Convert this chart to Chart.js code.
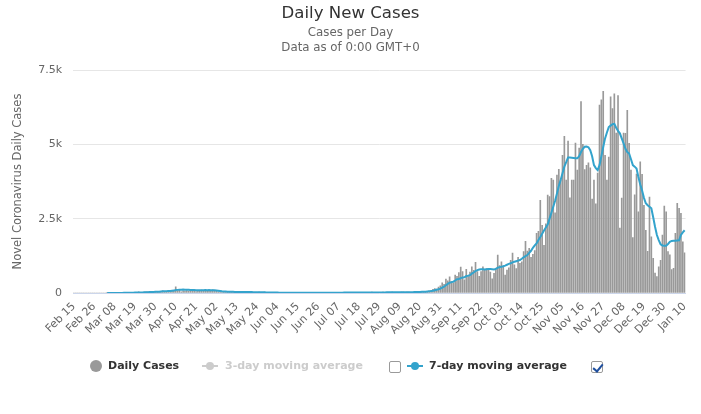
<!DOCTYPE html>
<html>
<head>
<meta charset="utf-8">
<script src="https://cdn.jsdelivr.net/npm/chart.js@4.4.0/dist/chart.umd.min.js"></script>
<style>
  body { margin: 0; background: #fff; font-family: "DejaVu Sans", sans-serif; }
  #wrap { position: relative; width: 701px; height: 414px; overflow: hidden; }
  #myChart { position: absolute; left: 0; top: 0; }
  .t { position: absolute; left: 0; width: 701px; text-align: center; white-space: nowrap; }
  #title { top: 3px; font-size: 16.6px; line-height: 20px; color: #333; }
  #sub1 { top: 25px; font-size: 11.8px; line-height: 14px; color: #666; }
  #sub2 { top: 40px; font-size: 11.8px; line-height: 14px; color: #666; }
  .lg { position: absolute; top: 359px; font-size: 11px; line-height: 14px; font-weight: bold; white-space: nowrap; }
  .dot { position: absolute; border-radius: 50%; }
  .seg { position: absolute; height: 2px; }
  .box { position: absolute; width: 10px; height: 10px; border: 1px solid #9a9a9a; border-radius: 2px; background: #fff; }
  .tick { position: absolute; left: 3px; top: 0px; width: 4px; height: 8px; border: solid #1f4f9e; border-width: 0 2px 2px 0; transform: rotate(40deg); }
</style>
</head>
<body>
<div id="wrap">
  <canvas id="myChart" width="701" height="414"></canvas>
  <div class="t" id="title">Daily New Cases</div>
  <div class="t" id="sub1">Cases per Day</div>
  <div class="t" id="sub2">Data as of 0:00 GMT+0</div>

  <div class="dot" style="left:90px;top:360px;width:12px;height:12px;background:#999;"></div>
  <div class="lg" style="left:108px;color:#333;">Daily Cases</div>

  <div class="seg" style="left:202px;top:365px;width:16px;background:#ccc;"></div>
  <div class="dot" style="left:206px;top:362px;width:8px;height:8px;background:#ccc;"></div>
  <div class="lg" style="left:225px;color:#ccc;">3-day moving average</div>

  <div class="box" style="left:389px;top:361px;"></div>

  <div class="seg" style="left:407px;top:365px;width:16px;background:#33a3cc;"></div>
  <div class="dot" style="left:411px;top:362px;width:8px;height:8px;background:#33a3cc;"></div>
  <div class="lg" style="left:429px;color:#333;">7-day moving average</div>

  <div class="box" style="left:591px;top:361px;"><div class="tick"></div></div>
</div>
<script>
// daily new cases, Feb 15 2020 -> Jan 10 2021
var dailyFeb = [0,0,0,0,0,0,0,0,0,0,0,0,0,0,0];
var dailyMar = [0,0,0,2,0,1,3,2,3,1,0,6,3,7,11,8,7,16,17,18,36,13,25,35,39,38,40,35,39,55,50];
var dailyApr = [60,60,70,38,55,74,73,78,85,210,85,99,43,72,64,82,66,99,80,67,48,53,82,100,84,95,65,84,73,105];
var dailyMay = [60,61,40,35,38,36,40,52,42,40,35,30,25,45,28,22,30,35,27,38,31,25,20,15,28,22,17,30,24,15,18];
var dailyJun = [14,8,12,15,10,6,9,4,10,4,3,12,8,10,6,5,7,3,12,14,9,4,8,10,18,7,5,6,8,10];
var dailyJul = [10,12,9,5,20,14,8,10,17,13,7,15,22,10,19,11,8,24,12,16,20,15,6,14,30,19,21,25,12,17,28];
var dailyAug = [20,15,12,22,30,24,26,18,10,27,35,23,31,28,20,25,32,40,38,45,30,22,48,60,75,92,120,150,132,200,245];
var dailySep = [345,290,470,410,540,380,330,600,560,690,870,720,440,800,550,700,880,760,1030,720,560,720,880,760,820,830,700,480,660,830];
var dailyOct = [1275,920,1050,860,600,770,850,1100,1340,950,820,1200,1000,1050,1390,1740,1410,1500,1200,1300,1430,2010,2070,3120,2280,1600,2330,3290,3240,3860,3800];
var dailyNov = [2700,3970,4160,3800,4630,5270,3800,5110,3200,3800,3800,5040,4130,4870,6440,5000,4150,4290,4380,4210,3160,3800,3000,4030,6320,6500,6780,4630,3800,4570];
var dailyDec = [6600,6200,6700,5380,6640,2180,3190,5380,5370,6140,5030,4130,1860,3300,4000,2730,4410,3990,2950,2110,1400,3230,1890,1170,670,550,880,1100,1950,2920,2730];
var dailyJan = [1390,1280,790,830,2010,3020,2850,2680,1720,1350];

// 7-day moving average
var avgFeb = [null,null,null,null,null,null,null,null,null,null,null,null,null,null,null];
var avgMar = [null,null,null,0,1,1,2,2,3,3,3,4,5,6,7,8,9,11,13,14,17,18,20,23,26,28,31,33,35,38,40];
var avgApr = [45,50,55,58,62,66,70,75,80,100,105,110,112,115,112,108,106,104,102,100,96,92,92,94,96,98,96,98,96,96];
var avgMay = [90,82,74,66,58,52,47,43,42,40,39,37,34,33,33,31,30,30,30,31,30,28,26,25,24,23,22,22,21,21,20];
var avgJun = [18,16,15,13,12,10,10,9,8,8,7,7,7,8,8,8,7,6,7,8,9,8,8,9,10,10,10,9,8,8];
var avgJul = [9,9,10,10,11,12,12,12,12,13,13,13,14,14,14,15,15,15,16,16,16,17,17,18,18,19,19,20,20,20,21];
var avgAug = [21,22,22,23,23,24,24,22,22,23,24,25,26,27,28,29,30,31,32,36,38,38,42,48,55,65,78,94,110,125,145];
var avgSep = [183,212,262,306,346,365,380,420,465,470,500,520,530,570,580,600,650,690,740,770,790,800,800,790,800,810,810,800,790,810];
var avgOct = [850,870,880,900,920,950,980,1000,1030,1050,1070,1090,1110,1150,1200,1240,1275,1350,1420,1520,1600,1670,1780,1880,1990,2100,2200,2300,2500,2700,2900];
var avgNov = [3100,3350,3600,3800,4030,4250,4400,4560,4560,4550,4540,4530,4530,4600,4740,4850,4920,4930,4900,4800,4600,4300,4200,4130,4300,4600,4910,5200,5400,5580];
var avgDec = [5630,5680,5690,5560,5450,5370,5200,5030,4850,4740,4690,4500,4300,4250,4190,3900,3650,3450,3200,3020,2950,2900,2850,2550,2230,1950,1780,1640,1600,1590,1590];
var avgJan = [1650,1720,1750,1760,1760,1765,1770,1950,2040,2110];

var daily = [].concat(dailyFeb, dailyMar, dailyApr, dailyMay, dailyJun, dailyJul, dailyAug, dailySep, dailyOct, dailyNov, dailyDec, dailyJan);
var avg7 = [].concat(avgFeb, avgMar, avgApr, avgMay, avgJun, avgJul, avgAug, avgSep, avgOct, avgNov, avgDec, avgJan);

var monthNames = ['Jan','Feb','Mar','Apr','May','Jun','Jul','Aug','Sep','Oct','Nov','Dec'];
var dates = [];
for (let i = 0; i < daily.length; i++) {
  let d = new Date(2020, 1, 15 + i);
  dates.push(monthNames[d.getMonth()] + ' ' + String(d.getDate()).padStart(2, '0'));
}
var labelEvery = 11;
var yTicks = [0, 2500, 5000, 7500];
var yTickText = ['0', '2.5k', '5k', '7.5k'];

var font = "DejaVu Sans";
var ctx = document.getElementById("myChart");
var myChart = new Chart(ctx, {
  type: "bar",
  data: {
    labels: dates,
    datasets: [
      {
        type: "line",
        data: avg7,
        label: "7-day moving average",
        borderColor: "#33a3cc",
        borderWidth: 2,
        pointRadius: 0,
        tension: 0,
        order: 0,
      },
      {
        data: daily,
        label: "Daily Cases",
        backgroundColor: "#999999",
        barThickness: 1,
        order: 1,
      },
    ],
  },
  options: {
    responsive: false,
    animation: false,
    layout: { padding: { top: 70, right: 11, left: 0, bottom: 0 } },
    plugins: {
      legend: { display: false },
      tooltip: { enabled: false },
    },
    scales: {
      x: {
        grid: { display: false, drawTicks: false },
        border: { color: "#ccd6eb", width: 1 },
        ticks: {
          autoSkip: false,
          maxRotation: 45,
          minRotation: 45,
          padding: 7,
          color: "#666",
          font: { family: font, size: 11 },
          callback: function (v, i) { return i % labelEvery === 0 ? dates[i] : ""; },
        },
        afterFit: function (s) { s.height = 121; },
      },
      y: {
        min: 0,
        max: 7500,
        afterBuildTicks: function (s) { s.ticks = yTicks.map(function (v) { return { value: v }; }); },
        ticks: {
          padding: 11,
          color: "#666",
          font: { family: font, size: 11 },
          callback: function (v) { return yTickText[yTicks.indexOf(v)]; },
        },
        grid: { color: "#e6e6e6", drawTicks: false },
        border: { display: false },
        title: {
          display: true,
          text: "Novel Coronavirus Daily Cases",
          color: "#666",
          font: { family: font, size: 11.5 },
          padding: { top: 11, bottom: 0 },
        },
        afterFit: function (s) { s.width = 73; },
      },
    },
  },
});
</script>
</body>
</html>
